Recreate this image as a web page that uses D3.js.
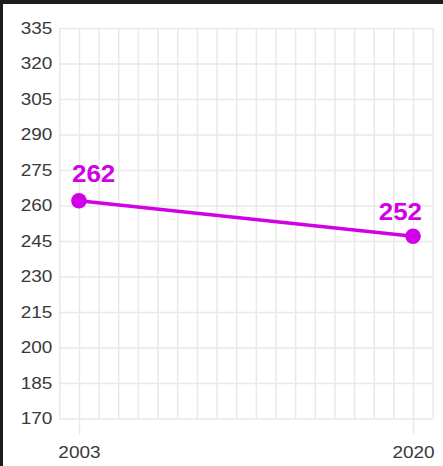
<!DOCTYPE html>
<html>
<head>
<meta charset="utf-8">
<script src="https://cdn.jsdelivr.net/npm/d3@7"></script>
<style>
  html, body { margin: 0; padding: 0; background: #fff; }
  svg { display: block; }
  .tick text { font-family: "Liberation Sans", Arial, sans-serif; font-size: 16.5px; fill: #3a3a3a;
    transform-box: fill-box; }
  .yaxis .tick text { transform-origin: right center; transform: scaleX(1.15); }
  .xaxis .tick text { transform-origin: center center; transform: scaleX(1.15); }
  .vlabel { font-family: "Liberation Sans", Arial, sans-serif; font-weight: bold; font-size: 23px;
    transform-box: fill-box; transform: scaleX(1.13); }
</style>
</head>
<body>
<div id="chart"></div>
<script>
// ---- data ----
const years = [2003, 2020];
const values = [262, 247];
const valueLabels = ["262", "252"];
const yTicks = [170, 185, 200, 215, 230, 245, 260, 275, 290, 305, 320, 335];
const xLabelTicks = [2003, 2020];
const gridYears = d3.range(2002, 2022);

// ---- layout ----
const W = 443, H = 466;
const plot = { left: 59.3, right: 432.7, top: 28, bottom: 418.5 };
const color = "#d200e6";

const svg = d3.select("#chart").append("svg").attr("width", W).attr("height", H);
svg.append("rect").attr("width", W).attr("height", H).attr("fill", "#fff");

const x = d3.scaleLinear().domain([2002, 2021]).range([plot.left, plot.right]);
const y = d3.scaleLinear().domain([170, 335]).range([plot.bottom, plot.top]);
const ph = plot.bottom - plot.top, pw = plot.right - plot.left;

// vertical grid (every year)
svg.append("g").attr("class", "xgrid")
  .attr("transform", `translate(0,${plot.bottom})`)
  .call(d3.axisBottom(x).tickValues(gridYears).tickSize(-ph).tickFormat(""))
  .call(g => g.select(".domain").remove())
  .call(g => g.selectAll("line").attr("stroke", "#e9e9e9").attr("stroke-width", 1.5));

// horizontal grid + y labels
svg.append("g").attr("class", "yaxis")
  .attr("transform", `translate(${plot.left},0)`)
  .call(d3.axisLeft(y).tickValues(yTicks).tickSize(-pw).tickPadding(7).tickFormat(d3.format("d")))
  .call(g => g.select(".domain").remove())
  .call(g => g.selectAll("line").attr("stroke", "#e9e9e9").attr("stroke-width", 1.5));

// x labels with ticks
svg.append("g").attr("class", "xaxis")
  .attr("transform", `translate(0,${plot.bottom})`)
  .call(d3.axisBottom(x).tickValues(xLabelTicks).tickSize(16).tickPadding(12).tickFormat(d3.format("d")))
  .call(g => g.select(".domain").remove())
  .call(g => g.selectAll("line").attr("stroke", "#e9e9e9").attr("stroke-width", 1.5));

// line
const pts = years.map((yr, i) => ({ yr, v: values[i], label: valueLabels[i], i }));
svg.append("path").datum(pts)
  .attr("fill", "none").attr("stroke", color).attr("stroke-width", 3.5)
  .attr("d", d3.line().x(d => x(d.yr)).y(d => y(d.v)));

svg.selectAll("circle.pt").data(pts).join("circle")
  .attr("class", "pt")
  .attr("cx", d => x(d.yr)).attr("cy", d => y(d.v)).attr("r", 7.8)
  .attr("fill", color);

svg.selectAll("text.vlabel").data(pts).join("text")
  .attr("class", "vlabel")
  .attr("fill", color)
  .attr("text-anchor", d => d.i === 0 ? "start" : "end")
  .style("transform-origin", d => d.i === 0 ? "left center" : "right center")
  .attr("x", d => d.i === 0 ? x(d.yr) - 7 : x(d.yr) + 9)
  .attr("y", d => y(d.v) - (d.i === 0 ? 19 : 16))
  .text(d => d.label);

// dark frame (top and left)
svg.append("rect").attr("x", 0).attr("y", 0).attr("width", W).attr("height", 4).attr("fill", "#1c1c1c");
svg.append("rect").attr("x", 0).attr("y", 0).attr("width", 3).attr("height", H).attr("fill", "#1c1c1c");
</script>
</body>
</html>
